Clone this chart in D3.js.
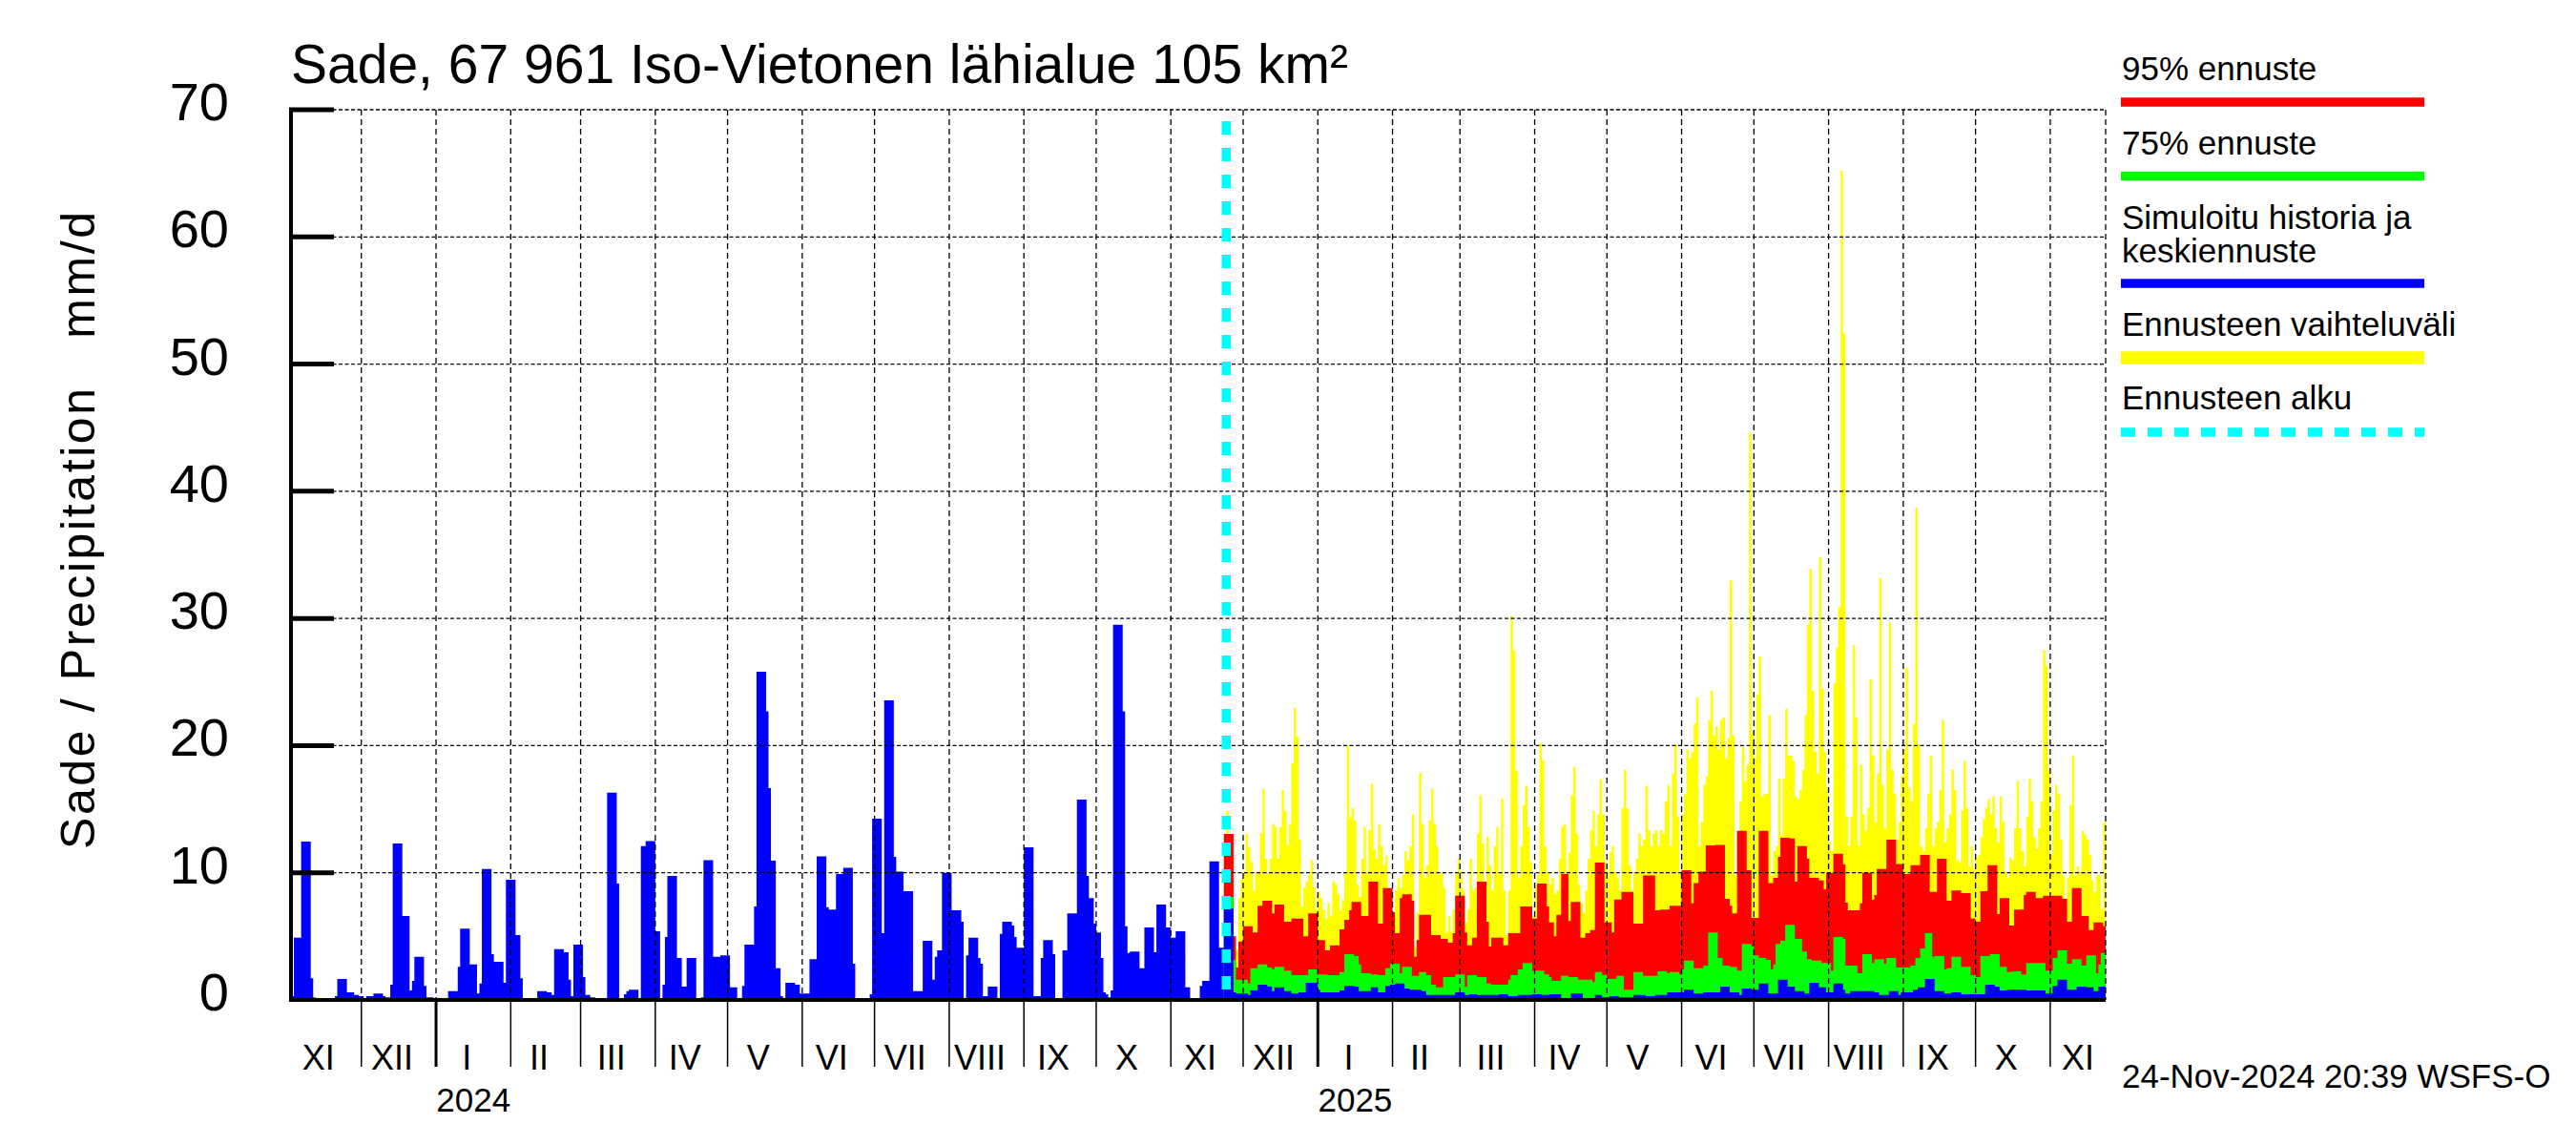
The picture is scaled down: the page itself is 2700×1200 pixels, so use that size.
<!DOCTYPE html>
<html><head><meta charset="utf-8">
<script src="https://cdn.jsdelivr.net/npm/d3@7"></script>
<style>body{margin:0;background:#fff}svg{display:block}</style>
</head><body>
<svg id="c" width="2700" height="1200"></svg>
<script>
// ---------- DATA ----------
const axisStart = "2023-11-01";
const axisEnd = "2025-11-24";
const histStart = "2023-11-01";
const fcStart = "2024-11-23";
const forecastLineDate = "2024-11-24";
const yTicks = [0,10,20,30,40,50,60,70];
const monthNames = ["I","II","III","IV","V","VI","VII","VIII","IX","X","XI","XII"];
const titleText = "Sade, 67 961 Iso-Vietonen lähialue 105 km²";
const yLabelText = "Sade / Precipitation   mm/d";
const stampText = "24-Nov-2024 20:39 WSFS-O";
const legendLabels = [["95% ennuste"],["75% ennuste"],["Simuloitu historia ja","keskiennuste"],["Ennusteen vaihteluväli"],["Ennusteen alku"]];

const history = [
0.3,0.3,4.9,4.9,4.9,12.45,12.45,12.45,12.45,1.7,
0.2,0,0,0,0,0,0.1,0.1,0.1,0.3,
1.65,1.65,1.65,1.65,0.6,0.6,0.6,0.4,0.4,0.3,
0.3,0.15,0.3,0.3,0.3,0.5,0.5,0.5,0.5,0.3,
0.2,0.2,1.2,12.3,12.3,12.3,12.3,6.6,6.6,6.6,
0.75,1.5,3.4,3.4,3.4,3.4,1.1,0.2,0.2,0.2,
0.1,0.1,0.1,0.1,0.1,0.1,0.7,0.7,0.7,0.7,
2.6,5.6,5.6,5.6,5.6,2.8,2.8,2.8,0.5,1.3,
10.3,10.3,10.3,10.3,3.6,3.0,3.0,3.0,3.0,1.35,
9.45,9.45,9.45,9.45,5.1,5.1,1.7,0.1,0,0,
0,0,0,0.7,0.7,0.7,0.7,0.6,0.6,0.4,
4.0,4.0,4.0,4.0,3.75,3.75,1.6,0.3,4.35,4.35,
4.35,4.35,1.8,0.4,0.4,0.2,0.2,0,0,0,
0,0,16.3,16.3,16.3,16.3,9.15,0,0,0.45,
0.7,0.8,0.8,0.8,0.8,0,12.1,12.1,12.5,12.5,
12.5,12.5,5.4,5.4,0,1.2,4.95,9.75,9.75,9.75,
9.75,3.3,3.3,1.05,1.05,3.3,3.3,3.3,3.3,0,
0,0.2,11.0,11.0,11.0,11.0,3.4,3.4,3.4,3.5,
3.5,3.5,3.5,1.0,1.0,1.0,0,0,1.1,4.35,
4.35,4.35,4.35,7.35,25.8,25.8,25.8,25.8,22.7,16.65,
10.95,10.95,2.5,2.5,0.3,0,1.35,1.35,1.35,1.35,
1.2,1.2,0.5,0.5,0.5,0.5,3.2,3.2,3.2,11.3,
11.3,11.3,11.3,7.3,7.1,7.1,7.1,9.9,9.9,9.9,
10.4,10.4,10.4,10.4,2.85,0.15,0.15,0.15,0.15,0.15,
0.15,0.45,14.25,14.25,14.25,14.25,5.25,23.55,23.55,23.55,
23.55,11.25,10.1,10.1,10.1,8.55,8.55,8.55,8.55,0.7,
0.7,0.7,0.7,4.65,4.65,4.65,4.65,1.6,3.4,3.9,
3.9,10.0,10.0,10.0,10.0,7.05,7.05,7.05,7.05,6.15,
0,3.5,4.9,4.9,4.9,4.9,3.3,2.85,0.3,0.3,
1.05,1.05,1.05,1.05,0.15,5.2,6.15,6.15,6.15,6.15,
5.85,4.95,4.1,4.1,4.1,12.0,12.0,12.0,12.0,0.3,
0.3,0.3,3.3,4.7,4.7,4.7,4.7,3.6,0.15,0.15,
0.15,3.9,3.9,6.8,6.8,6.8,6.8,15.75,15.75,15.75,
15.75,9.75,8.0,8.0,6.0,5.3,5.3,3.3,0.6,0.45,
0.2,0.75,29.5,29.5,29.5,29.5,22.7,5.8,3.7,3.8,
3.8,3.8,3.8,2.5,2.5,5.7,5.7,5.7,5.7,3.75,
7.5,7.5,7.5,7.5,5.7,5.7,4.9,4.9,5.4,5.4,
5.4,5.4,1.0,1.0,0.15,0.15,0.15,0.15,1.1,1.5,
1.5,1.5,10.9,10.9,10.9,10.9,4.1,4.1
];

const fcMax = [
13.05,14.9,13.05,13.05,5.0,4.0,8.0,9.5,10.1,13.1,
12.0,10.85,8.6,10.1,10.1,13.1,16.6,11.1,10,11.1,
13.85,13.6,11.1,13.6,16.5,14.85,12.2,13.85,18.6,23,
20.7,12.6,7.35,8.85,9.35,9.85,11,8.85,7.1,8.5,
8,7.1,6.35,7.6,6.6,9.35,9.1,8.35,7.1,7.85,
10.1,20,14.35,15.1,14.1,9.1,8.1,11.1,13.6,10.1,
13.35,17,11.85,11.1,13.85,12.1,10.6,11.35,8.6,6.85,
6.6,8.6,9.6,8.85,9.85,11.7,11,12.1,14.6,4.1,
6.85,17.85,13.85,9.6,10.6,14.1,16.6,13.85,12.1,9.85,
10,8.85,5.35,6.6,5.35,7.1,10.1,11.1,10.1,8.6,
6.1,7.1,11.1,8.6,8.85,13.1,16.1,12.35,8.6,12.85,
10.6,8.6,12.1,13.6,9.85,15.85,8.6,5.1,8.6,30.2,
27.5,18,9.6,12.1,15.35,16.85,13.6,10.85,6.6,9.1,
9.85,20.2,18.85,12.1,10.1,9.1,9.6,8.35,8.6,11.1,
13.6,13.85,10.1,11.6,16.1,18.35,13.1,9.1,7.6,6.85,
8.6,11.1,13.35,14.85,12.1,14.6,17.35,14.6,10.85,10.1,
11.6,12.1,10.1,9.6,8.6,15.1,18.1,15.1,10.6,8.6,
10.1,11.1,13.1,12.1,12.6,16.85,13.35,12.1,13.1,13.35,
12.1,13.35,13.1,15.6,16.9,12.1,17.8,20.1,14.4,10.1,
14.6,16.2,19.7,19.0,19.5,21.7,23.8,12.1,14.0,16.9,
17.6,22.0,24.3,20.8,21.5,19.7,22.0,22.2,19.0,20.6,
33,20.8,9.8,9.4,15.6,19.9,17.2,18.5,44.6,21.1,
19.0,24.0,27.0,16.0,16.2,16.2,22.4,9.8,11.7,12.1,
17.4,13.0,17.4,22.9,19.2,19.2,18.8,16.0,15.8,16.5,
18.1,22.4,29.5,33.9,24.3,19.5,17.8,34.8,24.5,19.5,
16.7,12.4,11.7,24.9,27.7,30.9,65.2,52.4,14.4,12.1,
14.4,27.9,22.2,12.1,18.5,14.6,13.3,15.1,25.2,19.2,
14.0,17.8,33.2,16.9,13.5,19.7,29.7,18.1,16.2,12.6,
14.0,17.6,19.7,26.1,16.7,15.6,21.7,38.7,20.1,12.1,
11.7,13.5,16.2,19.2,12.1,13.5,14.0,16.5,22.0,12.4,
13.5,14.6,18.1,16.5,11.0,10.8,14.9,18.8,15.1,10.5,
12.1,10.3,11.2,11.4,12.8,14.2,15.1,15.8,14.6,16.0,
13.5,12.4,16.0,14.0,10.1,9.6,11.2,11.0,13.5,17.2,
13.5,11.7,10.5,14.4,17.4,15.6,12.8,11.9,13.5,15.6,
27.5,26.3,18.1,11.4,14.9,16.9,16.2,12.6,9.8,7.3,
9.6,15.3,19.2,9.8,10.5,10.1,13.3,13.0,12.6,11.4,
9.4,8.5,9.8,9.8,7.1,14.0
];

const fc95 = [
13.05,13.05,13.05,13.05,5.0,2.55,4.6,4.6,5.8,5.8,
5.8,5.8,5.3,5.3,7.4,7.4,7.8,7.8,7.8,7.8,
6.8,7.5,7.5,7.5,7.5,6.15,6.15,6.15,6.4,6.4,
6.4,6.4,6.4,5.0,5.0,6.8,6.8,6.8,6.8,4.7,
4.7,4.7,3.9,3.9,4.3,4.3,4.3,4.3,5.55,5.55,
6.3,6.3,7.05,7.7,7.7,7.7,7.7,6.6,6.6,6.6,
9.3,9.3,9.3,9.3,6.0,6.0,8.8,8.8,8.8,8.8,
6.9,5.25,5.25,8.0,8.3,8.3,8.3,8.3,7.8,3.4,
4.7,6.7,6.7,6.7,6.7,6.7,5.1,5.1,5.1,5.1,
4.8,4.8,4.8,4.5,4.5,5.25,8.2,8.2,8.2,8.2,
5.3,4.3,4.3,4.9,4.9,9.3,9.3,9.3,9.3,6.15,
4.2,4.9,4.9,4.9,4.9,4.9,4.3,4.3,5.25,5.25,
5.25,5.25,5.25,7.35,7.35,7.35,7.35,7.35,6.4,6.4,
9.15,9.15,9.15,9.15,7.35,6.1,6.1,5.0,6.7,6.7,
9.9,9.9,9.9,6.2,7.7,7.7,7.7,7.7,4.9,4.9,
5.25,5.25,5.5,5.5,10.8,10.8,10.8,10.8,6.1,6.1,
6.1,5.3,7.9,7.9,7.9,8.5,8.5,8.5,8.5,8.5,
6.0,6.0,6.0,6.0,9.8,9.8,9.8,9.8,9.8,7.05,
7.05,7.1,7.1,7.1,7.1,7.4,7.4,7.4,7.4,7.4,
10.2,10.2,10.2,10.2,7.6,9.2,9.2,10.1,10.1,10.1,
12.15,12.15,12.15,12.15,12.2,12.2,12.2,12.2,7.95,7.95,
7.4,6.8,6.8,13.3,13.3,13.3,13.3,10.2,10.2,6.45,
6.45,6.45,13.3,13.3,13.3,13.3,9.2,9.2,9.6,9.6,
11.25,12.75,12.75,12.75,12.75,12.7,12.7,9.3,12.1,12.1,
12.1,12.1,11.1,9.6,9.6,9.6,9.6,9.4,9.4,8.7,
10.0,10.0,10.0,11.5,11.5,11.5,11.5,10.65,7.65,7.05,
7.05,7.05,7.05,7.05,7.6,10.0,10.0,10.0,10.0,7.9,
8.25,10.3,10.3,10.3,10.3,12.6,12.6,12.6,12.6,10.7,
10.7,10.7,9.9,9.9,9.9,10.6,10.6,10.6,10.6,11.4,
11.4,11.4,11.4,8.5,8.5,8.5,11.1,11.1,11.1,11.1,
7.8,7.8,8.6,8.6,8.6,8.6,8.4,8.4,8.4,8.4,
6.4,6.4,6.15,6.15,8.55,8.55,8.55,10.6,10.6,10.6,
10.6,6.75,8.0,8.0,8.0,8.0,5.85,5.85,7.1,7.1,
7.1,7.1,8.25,8.5,8.5,8.5,8.5,8.0,8.0,8.0,
8.2,8.2,8.2,8.2,8.2,8.2,8.2,8.2,7.95,7.95,
6.15,6.15,8.8,8.8,8.8,8.8,6.6,6.6,6.6,5.5,
5.5,6.1,6.1,6.1,6.1,5.8
];

const fc75 = [
8.1,8.1,8.1,8.1,3.15,1.6,1.6,1.6,1.6,1.6,
1.3,2.5,2.5,2.5,2.8,2.8,2.8,2.8,2.55,2.55,
2.4,2.6,2.6,2.6,2.6,2.3,2.3,2.3,1.95,1.95,
1.95,1.95,1.95,1.95,1.95,2.4,2.4,2.4,2.4,2.0,
2.0,2.0,2.0,1.95,1.95,1.95,1.95,1.95,2.2,2.2,
3.6,3.6,3.6,3.6,3.45,3.45,2.8,2.1,2.1,2.1,
2.1,2.0,2.0,2.0,1.95,1.95,1.95,2.5,2.5,2.85,
2.85,2.85,2.85,2.1,2.6,2.6,2.6,2.6,1.9,1.9,
1.9,2.2,2.2,2.2,1.95,1.95,1.2,1.2,1.0,1.0,
1.0,1.8,1.8,1.8,1.8,1.8,2.0,2.0,2.0,2.0,
1.05,1.95,1.95,1.95,1.95,1.8,1.8,1.8,1.8,1.3,
1.3,1.2,1.2,1.2,1.2,1.2,1.2,1.2,1.6,1.95,
1.95,1.95,2.4,2.4,2.9,2.9,2.9,2.9,2.3,2.3,
2.3,2.3,2.3,2.0,2.0,1.8,1.5,1.5,1.5,1.5,
1.9,1.9,1.9,1.8,1.8,1.8,1.8,1.6,1.6,1.6,
1.6,1.6,1.6,1.4,2.2,2.2,2.2,1.95,1.95,1.65,
1.65,1.65,1.65,1.9,1.9,1.9,0.8,0.8,0.8,0.8,
2.2,2.2,2.2,2.2,1.9,1.9,1.9,1.9,1.9,1.9,
2.25,2.25,2.25,2.25,2.1,2.2,2.2,2.2,2.2,2.0,
2.4,3.1,3.1,3.1,3.1,2.5,2.5,2.5,2.5,2.7,
2.7,5.3,5.3,5.3,5.3,3.3,3.3,2.7,2.7,2.7,
2.6,2.6,2.6,2.3,2.3,4.4,4.4,4.4,4.4,4.2,
3.5,3.5,3.3,3.3,3.3,3.15,3.15,2.4,2.8,4.4,
4.4,4.65,4.65,5.9,5.9,5.9,5.9,4.8,4.8,4.8,
3.8,3.8,3.2,3.2,3.1,3.1,3.1,3.1,2.9,2.9,
2.9,2.9,2.3,4.95,4.95,4.95,4.95,4.8,2.7,2.7,
2.7,2.7,2.7,2.1,2.1,3.6,3.6,3.6,3.6,2.9,
3.2,3.2,3.2,3.2,2.85,3.3,3.3,3.3,3.3,2.55,
2.55,2.55,2.55,2.55,2.55,2.7,2.7,3.3,3.3,4.05,
4.05,5.25,5.25,5.25,3.4,3.45,3.45,3.45,3.45,2.4,
2.5,2.5,3.4,3.4,3.4,3.4,2.6,2.6,2.6,2.6,
1.95,1.95,1.8,1.8,3.45,3.45,3.45,3.45,3.6,3.6,
3.6,3.6,2.6,2.6,2.6,2.2,2.2,2.25,2.25,2.25,
2.25,2.0,2.0,2.9,2.9,2.9,2.9,2.9,2.9,2.9,
2.9,2.3,2.3,2.3,3.3,3.3,3.9,3.9,3.9,3.9,
2.85,2.85,3.2,3.2,3.2,3.2,2.7,2.7,3.5,3.5,
3.5,3.5,2.1,2.8,3.7,3.7
];

const fcMedian = [
7.2,7.2,7.2,7.2,0.6,0.5,0.5,0.5,0.5,0.5,
0.4,0.75,0.75,0.75,1.2,1.2,1.2,1.2,1.05,1.05,
0.7,1.0,1.0,1.0,1.0,0.7,0.7,0.7,0.5,0.5,
0.5,0.6,0.6,0.6,1.35,1.35,1.35,1.35,1.35,0.8,
0.6,0.6,0.6,0.6,0.6,0.6,0.6,0.6,0.75,0.75,
1.1,1.1,1.1,1.1,1.05,1.05,0.7,0.7,0.7,0.7,
0.7,1.0,1.0,1.0,0.6,0.6,0.6,1.1,1.1,1.2,
1.2,1.3,1.3,1.3,1.3,0.9,0.9,0.8,0.8,0.8,
0.8,0.8,0.7,0.7,0.4,0.4,0.4,0.4,0.4,0.4,
0.4,0.4,0.4,0.4,0.4,0.4,0.6,0.6,0.6,0.6,
0.4,0.4,0.45,0.45,0.45,0.4,0.4,0.4,0.4,0.4,
0.4,0.4,0.4,0.4,0.45,0.45,0.45,0.45,0.3,0.3,
0.3,0.3,0.4,0.4,0.4,0.4,0.4,0.4,0.45,0.45,
0.45,0.45,0.4,0.4,0.4,0.45,0.45,0.45,0.45,0.45,
0.15,0.15,0.15,0.15,0.5,0.5,0.5,0.5,0.5,0.15,
0.15,0.15,0.15,0.15,0.4,0.4,0.4,0.2,0.2,0.2,
0.3,0.3,0.3,0.3,0.2,0.2,0.2,0.2,0.2,0.2,
0.4,0.4,0.4,0.4,0.4,0.3,0.3,0.3,0.3,0.4,
0.4,0.4,0.4,0.4,0.6,0.6,0.6,0.6,0.6,0.6,
0.6,0.8,0.8,0.8,0.8,0.5,0.5,0.5,0.5,0.6,
0.6,0.6,0.6,0.6,0.6,0.6,1.05,1.05,1.05,1.05,
0.6,0.6,0.6,0.6,0.4,0.9,0.9,0.9,0.9,0.8,
0.8,0.8,1.3,1.3,1.3,1.3,0.5,0.5,0.5,0.5,
1.6,1.6,1.6,1.6,1.05,1.05,1.05,0.7,0.7,0.7,
0.7,0.5,0.5,1.35,1.35,1.35,1.35,1.0,1.0,1.0,
0.6,0.6,0.6,1.3,1.3,1.3,1.3,0.8,0.5,0.5,
0.7,0.7,0.7,0.7,0.7,0.7,0.7,0.7,0.7,0.7,
0.6,0.6,0.4,0.4,0.4,0.4,0.7,0.7,0.7,0.7,
0.4,0.6,0.6,0.6,0.6,0.6,0.8,0.8,1.0,1.0,
1.0,1.65,1.65,1.65,1.65,0.7,0.7,0.7,0.7,0.5,
0.5,0.5,0.6,0.6,0.6,0.6,0.45,0.45,0.45,0.45,
0.45,0.45,0.45,0.45,0.45,0.45,1.2,1.2,1.2,1.2,
1.05,1.05,0.75,0.75,0.75,0.8,0.8,0.8,0.8,0.8,
0.8,0.8,0.8,0.75,0.75,0.75,0.75,0.75,0.75,0.75,
0.75,0.5,0.5,0.5,1.1,1.1,1.6,1.6,1.6,1.6,
0.8,0.8,0.8,0.8,1.05,1.05,1.05,1.05,1.0,1.0,
1.0,0.7,0.7,1.05,1.05,1.05
];

// ---------- CHART ----------
const svg = d3.select("#c");
const FONT = "'Liberation Sans', Arial, Helvetica, sans-serif";
const L = 303, R = 2207, T = 115, B = 1048;
const utc = s => new Date(s + "T00:00:00Z");
const DAY = 864e5;
const x = d3.scaleUtc().domain([utc(axisStart), utc(axisEnd)]).range([L, R]);
const y = d3.scaleLinear().domain([0, 70]).range([B, T]);

function pts(startStr, vals) {
  const s = utc(startStr).getTime();
  const p = vals.map((v, i) => ({d: new Date(s + i * DAY), v}));
  p.push({d: new Date(s + vals.length * DAY), v: vals[vals.length - 1]});
  return p;
}
const area = d3.area().curve(d3.curveStepAfter)
  .x(p => x(p.d)).y0(y(0)).y1(p => y(p.v));

const g = svg.append("g");
g.append("path").attr("d", area(pts(fcStart, fcMax))).attr("fill", "#ffff00");
g.append("path").attr("d", area(pts(fcStart, fc95))).attr("fill", "#ff0000");
g.append("path").attr("d", area(pts(fcStart, fc75))).attr("fill", "#00ff00");
g.append("path").attr("d", area(pts(fcStart, fcMedian))).attr("fill", "#0000ff");
g.append("path").attr("d", area(pts(histStart, history))).attr("fill", "#0000ff");

// grid
const grid = svg.append("g").attr("stroke", "#000").attr("stroke-width", 1.3).attr("fill", "none");
yTicks.filter(t => t > 0).forEach(t => {
  grid.append("line").attr("x1", L).attr("x2", R).attr("y1", y(t)).attr("y2", y(t))
    .attr("stroke-dasharray", "4,2.5");
});
const months = d3.utcMonth.range(d3.utcMonth.ceil(new Date(utc(axisStart).getTime() + DAY)), utc(axisEnd));
months.forEach(m => {
  grid.append("line").attr("x1", x(m)).attr("x2", x(m)).attr("y1", T).attr("y2", B)
    .attr("stroke-dasharray", "6,4");
});
grid.append("line").attr("x1", R).attr("x2", R).attr("y1", T).attr("y2", B).attr("stroke-dasharray", "6,4");

// axes
const ax = svg.append("g").attr("stroke", "#000");
ax.append("line").attr("x1", L + 2).attr("x2", L + 2).attr("y1", T).attr("y2", B + 2).attr("stroke-width", 4);
ax.append("line").attr("x1", L).attr("x2", R).attr("y1", B).attr("y2", B).attr("stroke-width", 4);
yTicks.filter(t => t > 0).forEach(t => {
  ax.append("line").attr("x1", L).attr("x2", L + 47).attr("y1", y(t)).attr("y2", y(t)).attr("stroke-width", 5);
});
yTicks.forEach(t => {
  svg.append("text").attr("x", 240).attr("y", y(t) + 11).attr("text-anchor", "end")
    .attr("font-family", FONT).attr("font-size", 56).text(t);
});

// month ticks and labels below axis
const allMonths = d3.utcMonth.range(utc(axisStart), utc(axisEnd));
allMonths.forEach(m => {
  const isJan = m.getUTCMonth() === 0;
  if (m.getTime() > utc(axisStart).getTime()) {
    ax.append("line").attr("x1", x(m)).attr("x2", x(m)).attr("y1", B).attr("y2", 1118)
      .attr("stroke-width", isJan ? 3 : 1.5);
  }
  const next = d3.utcMonth.offset(m, 1);
  const end = next > utc(axisEnd) ? utc(axisEnd) : next;
  const full = next <= utc(axisEnd);
  const cx = (x(m) + x(end)) / 2 - (full ? 7 : 0);
  svg.append("text").attr("x", cx).attr("y", 1121).attr("text-anchor", "middle")
    .attr("font-family", FONT).attr("font-size", 36).text(monthNames[m.getUTCMonth()]);
  if (isJan) {
    svg.append("text").attr("x", (x(m) + x(next)) / 2).attr("y", 1165).attr("text-anchor", "middle")
      .attr("font-family", FONT).attr("font-size", 35).text(m.getUTCFullYear());
  }
});

// forecast start line
svg.append("line").attr("x1", x(utc(forecastLineDate))).attr("x2", x(utc(forecastLineDate)))
  .attr("y1", 127).attr("y2", B).attr("stroke", "#00ffff").attr("stroke-width", 9.5)
  .attr("stroke-dasharray", "14,14");

// title and labels
svg.append("text").attr("x", 305).attr("y", 87).attr("font-family", FONT).attr("font-size", 57).text(titleText);
svg.append("text").attr("transform", "translate(99,556) rotate(-90)").attr("text-anchor", "middle")
  .attr("font-family", FONT).attr("font-size", 50).style("white-space", "pre")
  .attr("textLength", 668).attr("lengthAdjust", "spacing").text(yLabelText);
svg.append("text").attr("x", 2224).attr("y", 1140).attr("font-family", FONT).attr("font-size", 35).text(stampText);

// legend
const legColors = ["#ff0000", "#00ff00", "#0000ff", "#ffff00", "#00ffff"];
const legBase = [[84], [162], [240, 275], [352], [429]];
const legLineY = [107, 184.5, 297, 375, 453];
const legLineW = [9.5, 9.5, 9.5, 13.5, 9.5];
legendLabels.forEach((lines, i) => {
  lines.forEach((t, j) => {
    svg.append("text").attr("x", 2224).attr("y", legBase[i][j]).attr("font-family", FONT)
      .attr("font-size", 35).text(t);
  });
  const ln = svg.append("line").attr("x1", 2223).attr("x2", 2541).attr("y1", legLineY[i]).attr("y2", legLineY[i])
    .attr("stroke", legColors[i]).attr("stroke-width", legLineW[i]);
  if (i === 4) ln.attr("stroke-dasharray", "15,13");
});
</script>
</body></html>
